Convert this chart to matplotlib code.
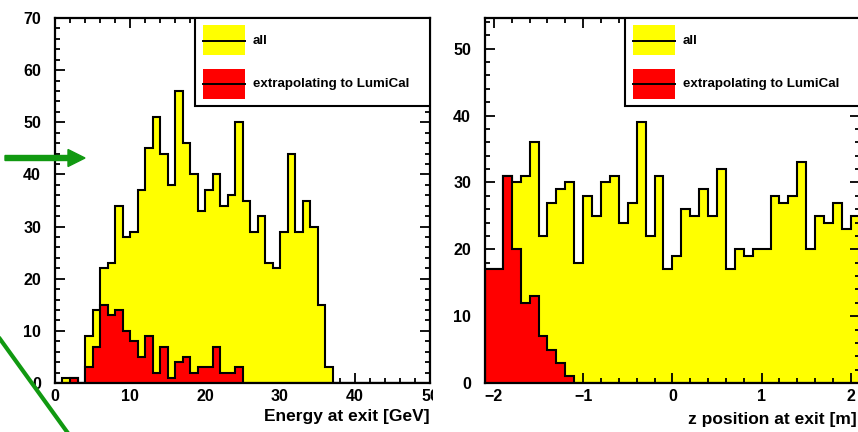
import matplotlib.pyplot as plt
import numpy as np
from matplotlib.patches import Rectangle, FancyArrow
from matplotlib.lines import Line2D
from matplotlib.ticker import MultipleLocator

plt.rcParams['font.family'] = ['Liberation Sans', 'DejaVu Sans']
plt.rcParams['font.weight'] = 'bold'

## energy at exit, 1 GeV bins 0..50
e_edges = np.arange(0, 51, 1)
e_all = [0, 1, 1, 0, 9, 14, 22, 23, 34, 28,
         29, 37, 45, 51, 44, 38, 56, 46, 40, 33,
         37, 40, 34, 36, 50, 35, 29, 32, 23, 22,
         29, 44, 29, 35, 30, 15, 3, 0, 0, 0,
         0, 0, 0, 0, 0, 0, 0, 0, 0, 0]
e_lumi = [0, 0, 1, 0, 3, 7, 15, 13, 14, 10,
          8, 5, 9, 2, 7, 1, 4, 5, 2, 3,
          3, 7, 2, 2, 3, 0, 0, 0, 0, 0,
          0, 0, 0, 0, 0, 0, 0, 0, 0, 0,
          0, 0, 0, 0, 0, 0, 0, 0, 0, 0]

## z position at exit, 0.1 m bins -2.1..2.1
z_edges = np.linspace(-2.1, 2.1, 43)
z_all = [17, 17, 31, 30, 31, 36, 22, 27, 29, 30,
         18, 28, 25, 30, 31, 24, 27, 39, 22, 31,
         17, 19, 26, 25, 29, 25, 32, 17, 20, 19,
         20, 20, 28, 27, 28, 33, 20, 25, 24, 27,
         23, 25]
z_lumi = [17, 17, 31, 20, 12, 13, 7, 5, 3, 1,
          0, 0, 0, 0, 0, 0, 0, 0, 0, 0,
          0, 0, 0, 0, 0, 0, 0, 0, 0, 0,
          0, 0, 0, 0, 0, 0, 0, 0, 0, 0,
          0, 0]

labels = ['all', 'extrapolating to LumiCal']
colors = ['#ffff00', '#ff0000']

W, H = 858, 432
fig = plt.figure(figsize=(W / 100, H / 100), dpi=100)

def px_axes(x0, x1, y0, y1, **kw):
    return fig.add_axes([x0 / W, 1 - y1 / H, (x1 - x0) / W, (y1 - y0) / H], **kw)

ax1 = px_axes(55, 430, 18, 383)
ax1.set_zorder(0)
pad = px_axes(433, 870, 0, 432)
pad.set_zorder(1)
pad.axis('off')
pad.add_patch(Rectangle((0, 0), 1, 1, transform=pad.transAxes, color='white'))
ax2 = px_axes(485, 859.8, 18, 383)
ax2.set_zorder(2)


def style(ax, xmaj, xmin, ymaj, ymin):
    ax.xaxis.set_major_locator(MultipleLocator(xmaj))
    ax.xaxis.set_minor_locator(MultipleLocator(xmin))
    ax.yaxis.set_major_locator(MultipleLocator(ymaj))
    ax.yaxis.set_minor_locator(MultipleLocator(ymin))
    ax.tick_params(which='both', direction='in', top=True, right=True, width=1.3,
                   labelsize=11.5)
    ax.tick_params(which='major', length=7.5)
    ax.tick_params(which='minor', length=3.8)
    ax.tick_params(axis='y', pad=10)
    ax.tick_params(axis='x', pad=4)
    for s in ax.spines.values():
        s.set_linewidth(1.6)
    ax.set_axisbelow(True)


def legend_box(ax):
    ax.add_patch(Rectangle((0.373, 0.759), 0.627, 0.241, transform=ax.transAxes,
                           facecolor='white', edgecolor='black', lw=1.5, zorder=5))
    for k, (yb, yc) in enumerate([(0.899, 0.937), (0.778, 0.819)]):
        ax.add_patch(Rectangle((0.395, yb), 0.112, 0.083, transform=ax.transAxes,
                               facecolor=colors[k], edgecolor='none', zorder=6))
        ax.add_line(Line2D([0.395, 0.507], [yc, yc], transform=ax.transAxes,
                           color='black', lw=1.4, zorder=7))
        ax.text(0.528, yc, labels[k], transform=ax.transAxes, fontsize=9.6,
                fontweight='bold', va='center', ha='left', zorder=7)


# left: energy
ax1.stairs(e_all, e_edges, fill=True, color=colors[0], zorder=1)
ax1.stairs(e_all, e_edges, color='black', lw=1.5, zorder=1.1)
ax1.stairs(e_lumi, e_edges, fill=True, color=colors[1], zorder=1.2)
ax1.stairs(e_lumi, e_edges, color='black', lw=1.5, zorder=1.3)
ax1.set_xlim(0, 50)
ax1.set_ylim(0, 70)
style(ax1, 10, 2, 10, 2)
ax1.set_xlabel('Energy at exit [GeV]', fontsize=12.5, fontweight='bold', loc='right',
               labelpad=4)
legend_box(ax1)

# right: z position
ax2.stairs(z_all, z_edges, fill=True, color=colors[0], zorder=0.3)
ax2.stairs(z_all, z_edges, color='black', lw=1.5, zorder=0.35)
ax2.stairs(z_lumi, z_edges, fill=True, color=colors[1], zorder=1.2)
ax2.stairs(z_lumi, z_edges, color='black', lw=1.5, zorder=1.3)
ax2.set_xlim(-2.1, 2.1)
ax2.set_ylim(0, 54.6)
style(ax2, 1, 0.2, 10, 2)
ax2.set_xlabel('z position at exit [m]', fontsize=12.5, fontweight='bold')
ax2.xaxis.set_label_coords(0.992, -0.080)
ax2.xaxis.label.set_horizontalalignment('right')
ax2.xaxis.label.set_verticalalignment('top')
legend_box(ax2)

# green annotation marks drawn on top
green = '#119911'
fig.add_artist(FancyArrow(0.05, (H - 158) / 100, 0.80, 0, width=0.05, head_width=0.17,
                          head_length=0.17, length_includes_head=True, color=green,
                          transform=fig.dpi_scale_trans, zorder=10))
fig.add_artist(Line2D([0.0, 0.70], [(H - 339) / 100, (H - 436) / 100], color=green,
                      lw=3, transform=fig.dpi_scale_trans, zorder=10))

fig.savefig('out.png', dpi=100)
